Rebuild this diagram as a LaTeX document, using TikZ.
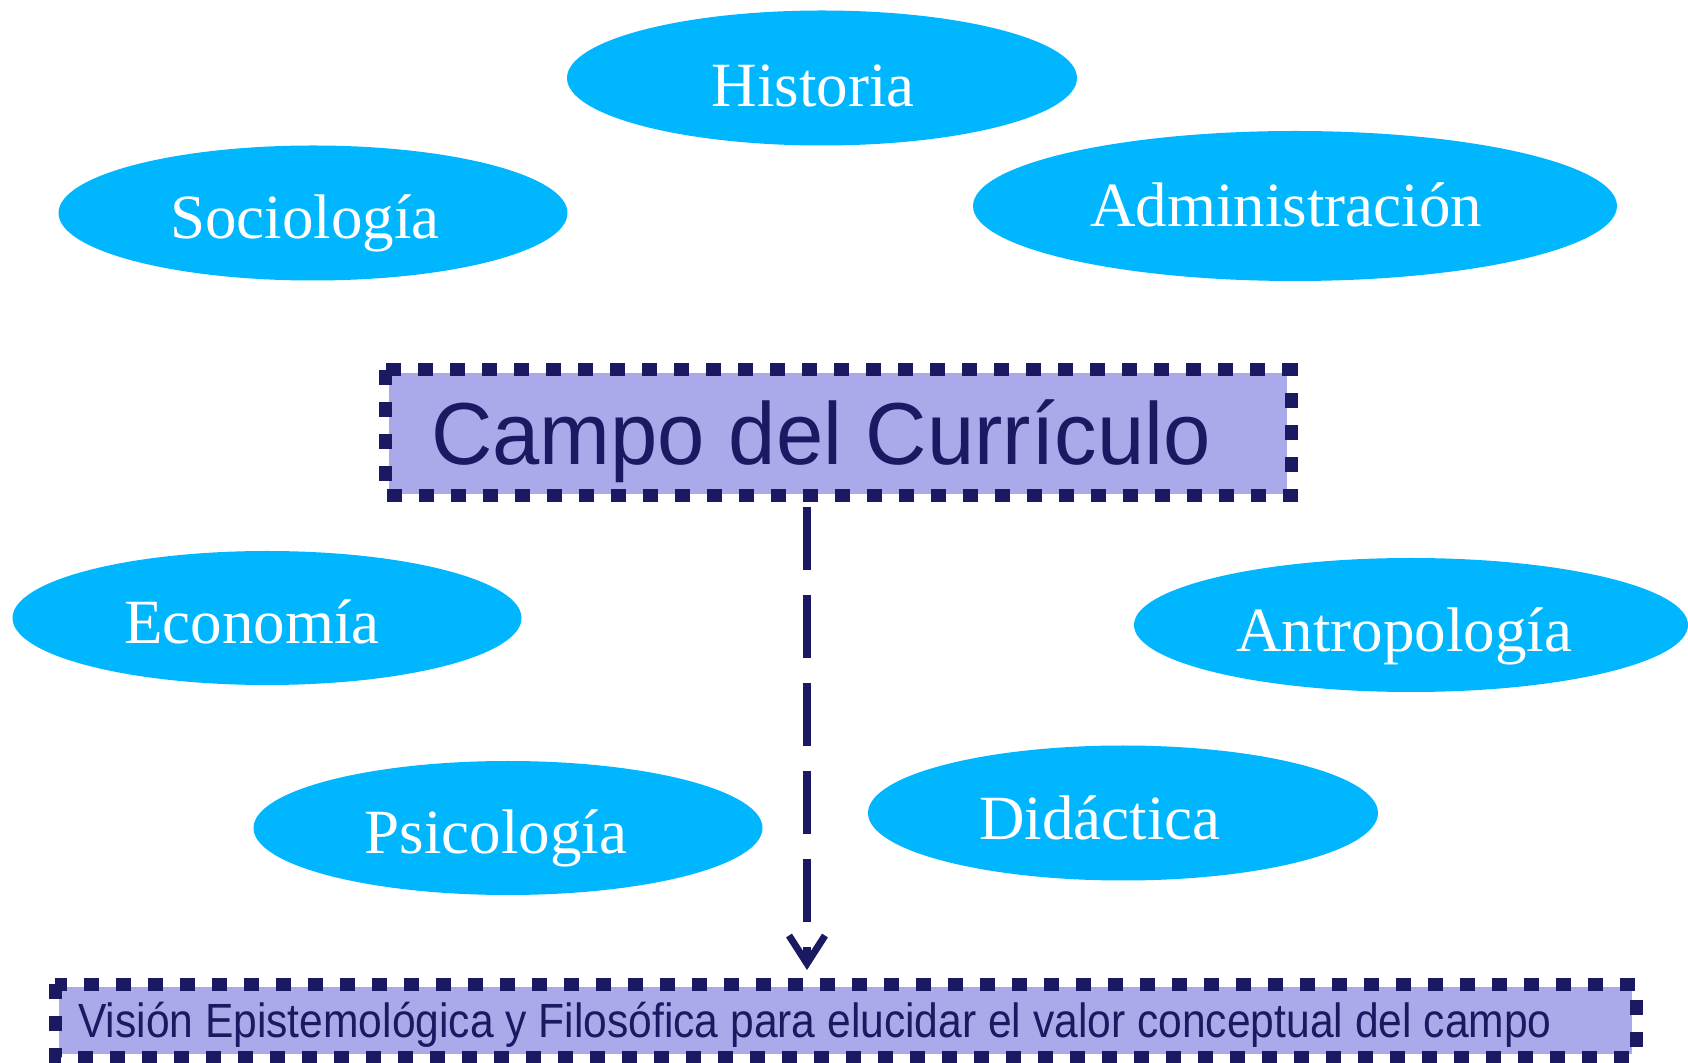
\documentclass[tikz,border=0pt]{standalone}
\usepackage{fontspec}
\setmainfont{Liberation Serif}
\newfontfamily\arialf{Liberation Sans}
\usetikzlibrary{shapes.geometric,arrows.meta}
\definecolor{cyanfill}{RGB}{0,183,255}
\definecolor{lavfill}{RGB}{170,170,235}
\definecolor{navy}{RGB}{27,25,98}
\begin{document}
\begin{tikzpicture}[x=0.5pt,y=-0.5pt,
  disc/.style={ellipse, fill=cyanfill, draw=none, inner sep=0pt},
  disctext/.style={anchor=base, text=white, inner sep=0pt, font=\fontsize{31.5pt}{36pt}\selectfont},
  boxfill/.style={fill=lavfill, draw=none},
  boxborder/.style={draw=navy, line width=6.5pt, dash pattern=on 7.5pt off 8.5pt},
  flow/.style={draw=navy, line width=4pt, dash pattern=on 31.5pt off 12.5pt,
    -{Straight Barb[length=14pt, width=18pt, line width=3.5pt]}}
]
\useasboundingbox (0,0) rectangle (1688,1063);
% ellipses
\node[disc, minimum width=255pt, minimum height=67.5pt] (hist) at (822,78) {};
\node[disc, minimum width=254.5pt, minimum height=67.5pt] (soc) at (313,213) {};
\node[disc, minimum width=322pt, minimum height=75pt] (adm) at (1295,206) {};
\node[disc, minimum width=254.5pt, minimum height=67pt] (eco) at (267,618) {};
\node[disc, minimum width=277pt, minimum height=67pt] (antr) at (1411,625) {};
\node[disc, minimum width=254.5pt, minimum height=67pt] (psi) at (508,828) {};
\node[disc, minimum width=255pt, minimum height=67.5pt] (did) at (1123,813) {};
% ellipse labels
\node[disctext] (histT) at (813,107) {Historia};
\node[disctext] (socT) at (305,239) {Sociología};
\node[disctext] (admT) at (1286,227) {Administración};
\node[disctext] (ecoT) at (252,644) {Economía};
\node[disctext] (antrT) at (1404,652) {Antropología};
\node[disctext] (psiT) at (496,854) {Psicología};
\node[disctext] (didT) at (1100,840) {Didáctica};
% campo box
\path[boxfill] (389,373) rectangle (1287,494);
\node[draw=none, inner sep=0pt, minimum width=453pt, minimum height=63pt] (campo) at (838,433) {};
\draw[boxborder] (385,370) rectangle (1291,496);
\node[anchor=base, inner sep=0pt, text=navy, font=\arialf\fontsize{44pt}{50pt}\selectfont] (campoT) at (821,465) {\scalebox{0.966}[1]{Campo del Currículo}};
% bottom box
\path[boxfill] (59,987) rectangle (1632,1054);
\node[draw=none, inner sep=0pt, minimum width=790.5pt, minimum height=36.5pt] (vision) at (845.5,1020.5) {};
\draw[boxborder] (55,984) rectangle (1636,1057);
\node[anchor=base, inner sep=0pt, text=navy, font=\arialf\fontsize{24pt}{28pt}\selectfont] (visionT) at (815,1037) {\scalebox{0.887}[1]{Visión Epistemológica y Filosófica para elucidar el valor conceptual del campo}};
% arrow
\coordinate (arrS) at (807,507);
\coordinate (arrE) at (807,970);
\draw[flow] (arrS) -- (arrE);
\end{tikzpicture}
\end{document}
